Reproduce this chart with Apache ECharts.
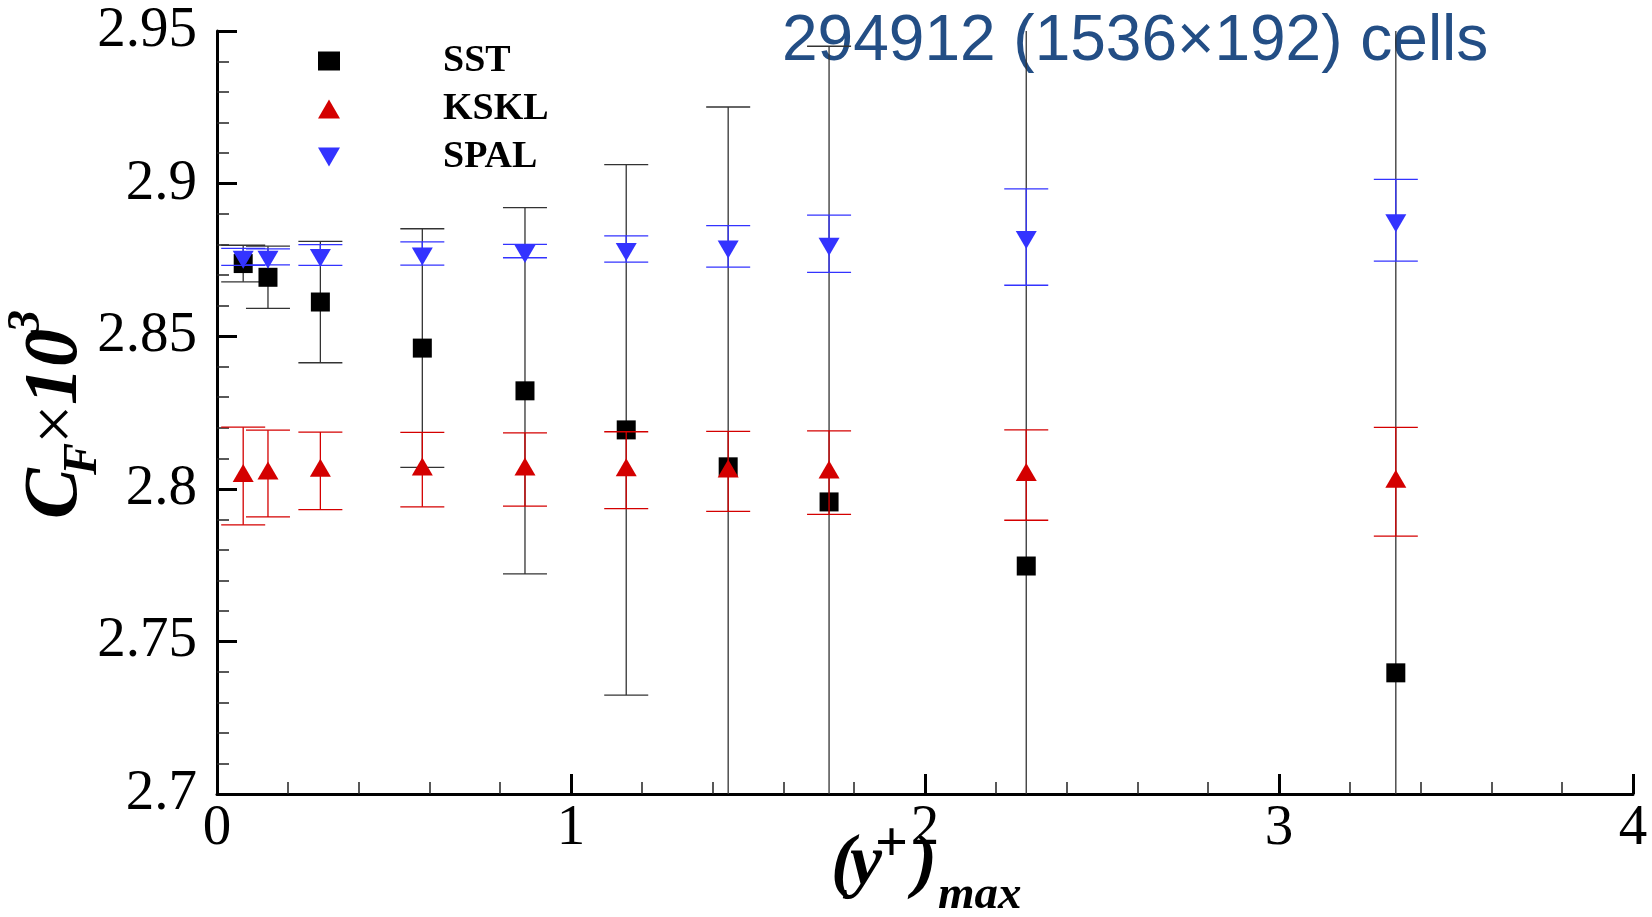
<!DOCTYPE html>
<html>
<head>
<meta charset="utf-8">
<script src="https://cdn.jsdelivr.net/npm/echarts@6/dist/echarts.min.js"></script>
<style>
html, body { margin: 0; padding: 0; background: #fff; }
#main { width: 1652px; height: 917px; }
</style>
</head>
<body>
<div id="main"></div>
<script>
// ---------------- data ----------------
const yPlusMax = [0.074, 0.144, 0.292, 0.580, 0.870, 1.156, 1.444, 1.729, 2.286, 3.330];

const sstCf  = [2.8738, 2.8693, 2.8612, 2.8461, 2.8321, 2.8193, 2.8072, 2.7957, 2.7747, 2.7397];
const sstErr = [0.0060, 0.0102, 0.0199, 0.0391, 0.0600, 0.0869, 0.1179, 0.1493, 0.1900, 0.2600];

const ksklCf  = [2.8042, 2.8050, 2.8059, 2.8063, 2.8063, 2.8061, 2.8057, 2.8053, 2.8045, 2.8023];
const ksklErr = [0.0160, 0.0142, 0.0127, 0.0122, 0.0120, 0.0126, 0.0131, 0.0137, 0.0148, 0.0178];

const spalCf  = [2.8760, 2.8760, 2.8766, 2.8771, 2.8779, 2.8786, 2.8794, 2.8803, 2.8825, 2.8880];
const spalErr = [0.0028, 0.0026, 0.0034, 0.0038, 0.0022, 0.0043, 0.0068, 0.0094, 0.0158, 0.0134];

const seriesNames = ['SST', 'KSKL', 'SPAL'];
const titleText = '294912 (1536×192) cells';

const X_MIN = 0, X_MAX = 4, X_INTERVAL = 1;
const Y_MIN = 2.7, Y_MAX = 2.95, Y_INTERVAL = 0.05;

// ---------------- helpers ----------------
const SERIF = 'Liberation Serif';
const SANS = 'Liberation Sans';
const UP_TRI = 'path://M0,18L10.5,0L21,18Z';
const DOWN_TRI = 'path://M0,0L21,0L10.5,18Z';

function errorSeries(name, means, errs, color, z) {
  return {
    type: 'custom',
    name: name + ' error',
    z: z,
    silent: true,
    data: yPlusMax.map((x, i) => [x, means[i] - errs[i], means[i] + errs[i]]),
    encode: { x: 0, y: [1, 2] },
    renderItem: function (params, api) {
      const x = api.value(0);
      const lo = api.value(1);
      const hi = api.value(2);
      const loC = Math.max(lo, Y_MIN);
      const hiC = Math.min(hi, Y_MAX);
      const pLo = api.coord([x, loC]);
      const pHi = api.coord([x, hiC]);
      const half = 22;
      const st = { stroke: color, lineWidth: 1.3 };
      const children = [{
        type: 'line',
        shape: { x1: pLo[0], y1: pLo[1], x2: pHi[0], y2: pHi[1] },
        style: st
      }];
      if (hi <= Y_MAX) {
        children.push({ type: 'line', shape: { x1: pHi[0] - half, y1: pHi[1], x2: pHi[0] + half, y2: pHi[1] }, style: st });
      }
      if (lo >= Y_MIN) {
        children.push({ type: 'line', shape: { x1: pLo[0] - half, y1: pLo[1], x2: pLo[0] + half, y2: pLo[1] }, style: st });
      }
      return { type: 'group', children: children };
    }
  };
}

function piece(text, left, baseline, size, weight, fstyle, family) {
  const fam = family || SERIF;
  const mid = fam === SANS ? 0.3465 : 0.3375;
  return {
    type: 'text',
    x: left,
    y: baseline - mid * size,
    style: {
      text: text,
      fontFamily: fam,
      fontSize: size,
      fontWeight: weight,
      fontStyle: fstyle,
      fill: '#000',
      align: 'left',
      verticalAlign: 'middle'
    }
  };
}

function fmtY(v) { return String(parseFloat(v.toFixed(2))); }

const chart = echarts.init(document.getElementById('main'), null, { renderer: 'canvas' });

const option = {
  animation: false,
  backgroundColor: '#fff',
  grid: { left: 217, right: 19, top: 31, bottom: 123, containLabel: false },
  legend: {
    data: [
      { name: seriesNames[0], icon: 'rect' },
      { name: seriesNames[1], icon: UP_TRI },
      { name: seriesNames[2], icon: DOWN_TRI }
    ],
    orient: 'vertical',
    left: 313,
    top: 37,
    itemWidth: 22,
    itemHeight: 19,
    itemGap: 10,
    selectedMode: false,
    formatter: function (n) { return '{g|}{t|' + n + '}'; },
    textStyle: {
      rich: {
        g: { width: 98 },
        t: { fontFamily: SERIF, fontWeight: 'bold', fontSize: 38, color: '#000' }
      }
    }
  },
  xAxis: {
    type: 'value',
    min: X_MIN, max: X_MAX, interval: X_INTERVAL,
    axisLine: { show: true, onZero: false, lineStyle: { color: '#000', width: 3 } },
    axisTick: { show: true, inside: true, length: 20, lineStyle: { color: '#000', width: 3 } },
    minorTick: { show: true, splitNumber: 5, length: 12, lineStyle: { color: '#222', width: 1.5 } },
    axisLabel: { fontFamily: SERIF, fontSize: 57, color: '#000', margin: 7 },
    splitLine: { show: false }
  },
  yAxis: {
    type: 'value',
    min: Y_MIN, max: Y_MAX, interval: Y_INTERVAL,
    axisLine: { show: true, onZero: false, lineStyle: { color: '#000', width: 3 } },
    axisTick: { show: true, inside: true, length: 20, lineStyle: { color: '#000', width: 3 } },
    minorTick: { show: true, splitNumber: 5, length: 12, lineStyle: { color: '#222', width: 1.5 } },
    axisLabel: { fontFamily: SERIF, fontSize: 57, color: '#000', margin: 20, formatter: fmtY },
    splitLine: { show: false }
  },
  graphic: [
    {
      type: 'text',
      x: 782,
      y: 64.5 - 0.3465 * 64,
      style: { text: titleText, fontFamily: SANS, fontSize: 64, fill: '#234e85', align: 'left', verticalAlign: 'middle' }
    },
    {
      type: 'group',
      x: 82, y: 517,
      rotation: Math.PI / 2,
      children: [
        piece('C', -2, 0, 76, 'bold', 'italic'),
        piece('F', 42, 18, 48, 'bold', 'italic'),
        piece('×', 73, 0, 70, 'normal', 'normal'),
        piece('10', 112, 0, 76, 'bold', 'italic'),
        piece('3', 184, -39, 46, 'bold', 'italic')
      ]
    },
    {
      type: 'group',
      x: 0, y: 0,
      children: [
        piece('(', 831, 890, 72, 'bold', 'italic'),
        piece('y', 850, 890, 72, 'bold', 'italic'),
        piece('+', 875, 866, 58, 'bold', 'normal'),
        piece(')', 913, 890, 72, 'bold', 'italic'),
        piece('max', 938, 912, 47, 'bold', 'italic')
      ]
    }
  ],
  series: [
    errorSeries('SST', sstCf, sstErr, '#333', 2),
    {
      type: 'scatter', name: 'SST', z: 3,
      data: yPlusMax.map((x, i) => [x, sstCf[i]]),
      symbol: 'rect', symbolSize: 19,
      itemStyle: { color: '#000', opacity: 1 }
    },
    errorSeries('KSKL', ksklCf, ksklErr, '#d40000', 4),
    {
      type: 'scatter', name: 'KSKL', z: 5,
      data: yPlusMax.map((x, i) => [x, ksklCf[i]]),
      symbol: 'triangle', symbolSize: [21, 18], symbolOffset: [0, -3],
      itemStyle: { color: '#d40000', opacity: 1 }
    },
    errorSeries('SPAL', spalCf, spalErr, '#3333ff', 6),
    {
      type: 'scatter', name: 'SPAL', z: 7,
      data: yPlusMax.map((x, i) => [x, spalCf[i]]),
      symbol: 'triangle', symbolRotate: 180, symbolSize: [21, 18], symbolOffset: [0, 3],
      itemStyle: { color: '#3333ff', opacity: 1 }
    }
  ]
};

chart.setOption(option);
</script>
</body>
</html>
